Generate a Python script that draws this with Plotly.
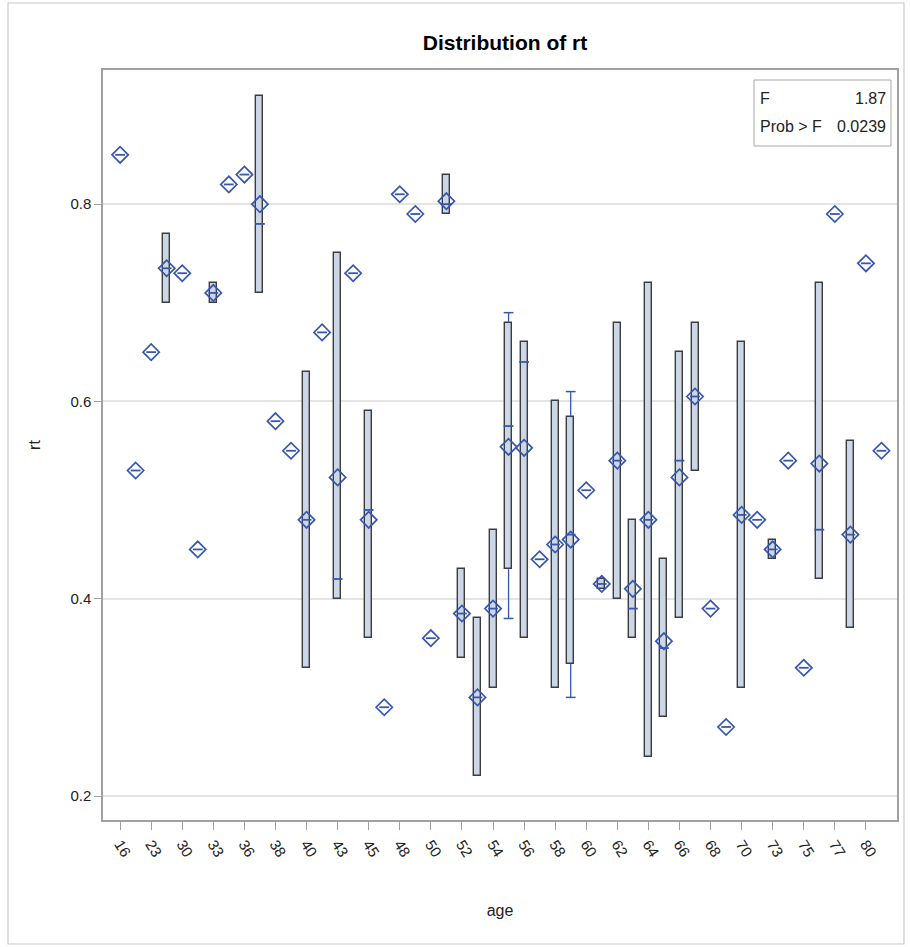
import plotly.graph_objects as go

# ---- data ----
ages = ["16", "20", "23", "27", "30", "32", "33", "35", "36", "37",
        "38", "39", "40", "42", "43", "44", "45", "47", "48", "49",
        "50", "51", "52", "53", "54", "55", "56", "57", "58", "59",
        "60", "61", "62", "63", "64", "65", "66", "67", "68", "69",
        "70", "72", "73", "74", "75", "76", "77", "79", "80", "82"]
tick_labels = ["16", "23", "30", "33", "36", "38", "40", "43", "45", "48", "50", "52",
               "54", "56", "58", "60", "62", "64", "66", "68", "70", "73", "75", "77", "80"]

# single-observation groups
single_age = ["16", "20", "23", "30", "32", "35", "36", "38", "39", "42", "44", "47",
              "48", "49", "50", "57", "60", "68", "69", "72", "74", "75", "77", "80", "82"]
single_rt = [0.85, 0.53, 0.65, 0.73, 0.45, 0.82, 0.83, 0.58, 0.55, 0.67, 0.73, 0.29,
             0.81, 0.79, 0.36, 0.44, 0.51, 0.39, 0.27, 0.48, 0.54, 0.33, 0.79, 0.74, 0.55]

# multi-observation groups (box statistics)
box_age = ["27", "33", "37", "40", "43", "45", "51", "52", "53", "54", "55", "56", "58",
           "59", "61", "62", "63", "64", "65", "66", "67", "70", "73", "76", "79"]
box_q1 = [0.70, 0.70, 0.71, 0.33, 0.40, 0.36, 0.79, 0.34, 0.22, 0.31, 0.43, 0.36, 0.31,
          0.334, 0.41, 0.40, 0.36, 0.24, 0.28, 0.38, 0.53, 0.31, 0.44, 0.42, 0.37]
box_med = [0.735, 0.71, 0.78, 0.48, 0.42, 0.49, 0.80, 0.385, 0.30, 0.39, 0.575, 0.64, 0.455,
           0.465, 0.415, 0.54, 0.39, 0.48, 0.35, 0.54, 0.605, 0.485, 0.45, 0.47, 0.465]
box_q3 = [0.77, 0.72, 0.91, 0.63, 0.75, 0.59, 0.83, 0.43, 0.38, 0.47, 0.68, 0.66, 0.60,
          0.584, 0.42, 0.68, 0.48, 0.72, 0.44, 0.65, 0.68, 0.66, 0.46, 0.72, 0.56]
box_mean = [0.735, 0.71, 0.80, 0.48, 0.523, 0.48, 0.803, 0.385, 0.30, 0.39, 0.554, 0.553, 0.455,
            0.46, 0.415, 0.54, 0.41, 0.48, 0.357, 0.523, 0.605, 0.485, 0.45, 0.537, 0.465]

# whiskers (only groups where they extend beyond the box)
whisk_age = ["55", "59"]
whisk_lo = [0.38, 0.30]
whisk_hi = [0.69, 0.61]

f_value = "1.87"
p_value = "0.0239"

# ---- styling ----
BLUE = "#3656B0"
BOXFILL = "#CBD6E6"
BOXLINE = "#3C3C3C"
FONT = "Liberation Sans Narrow, Liberation Sans, Arial, sans-serif"

W, H = 910, 947
L, R, T, B = 103, 897, 70, 820


def px(x):
    return (x - L) / (R - L)


def py(y):
    return (B - y) / (B - T)


fig = go.Figure()

# whiskers
wx, wy = [], []
for a, lo, hi in zip(whisk_age, whisk_lo, whisk_hi):
    k = box_age.index(a)
    wx += [a, a, None, a, a, None]
    wy += [box_q3[k], hi, None, box_q1[k], lo, None]
fig.add_trace(go.Scatter(x=wx, y=wy, mode="lines", line=dict(color=BLUE, width=1.3),
                         hoverinfo="skip", showlegend=False))
fig.add_trace(go.Scatter(x=whisk_age + whisk_age, y=whisk_lo + whisk_hi, mode="markers",
                         marker=dict(symbol="line-ew", size=7, line=dict(color=BLUE, width=1.5)),
                         hoverinfo="skip", showlegend=False))

# boxes
fig.add_trace(go.Bar(x=box_age, y=[b - a for a, b in zip(box_q1, box_q3)], base=box_q1,
                     width=0.45, marker=dict(color=BOXFILL, line=dict(color=BOXLINE, width=1.4)),
                     showlegend=False))

# medians
fig.add_trace(go.Scatter(x=box_age + single_age, y=box_med + single_rt, mode="markers",
                         marker=dict(symbol="line-ew", size=7, line=dict(color=BLUE, width=1.8)),
                         showlegend=False, hoverinfo="skip"))

# means (diamonds)
fig.add_trace(go.Scatter(x=box_age + single_age, y=box_mean + single_rt, mode="markers",
                         marker=dict(symbol="diamond-open", size=12.5, color=BLUE,
                                     line=dict(color=BLUE, width=1.7)),
                         showlegend=False))

shapes = [
    # outer border
    dict(type="rect", xref="paper", yref="paper", x0=px(8), x1=px(904), y0=py(944), y1=py(3),
         line=dict(color="#C8C8C8", width=1.2), layer="below"),
    # inset box
    dict(type="rect", xref="paper", yref="paper", x0=px(754), x1=px(891), y0=py(146), y1=py(80),
         line=dict(color="#A8A8A8", width=1), fillcolor="white"),
]

annos = [
    dict(x=px(758), y=py(98), xref="paper", yref="paper", text="F", showarrow=False,
         xanchor="left", yanchor="middle", font=dict(size=16, color="#222", family=FONT)),
    dict(x=px(888), y=py(98), xref="paper", yref="paper", text=f_value, showarrow=False,
         xanchor="right", yanchor="middle", font=dict(size=16, color="#222", family=FONT)),
    dict(x=px(758), y=py(127), xref="paper", yref="paper", text="Prob > F", showarrow=False,
         xanchor="left", yanchor="middle", font=dict(size=16, color="#222", family=FONT)),
    dict(x=px(888), y=py(127), xref="paper", yref="paper", text=p_value, showarrow=False,
         xanchor="right", yanchor="middle", font=dict(size=16, color="#222", family=FONT)),
]

fig.update_layout(
    width=W, height=H,
    margin=dict(l=L, r=W - R, t=T, b=H - B, pad=0),
    paper_bgcolor="white", plot_bgcolor="white",
    font=dict(family=FONT, size=15, color="#222"),
    title=dict(text="<b>Distribution of rt</b>", x=505 / W, xanchor="center",
               y=1 - 43 / H, yanchor="middle", font=dict(size=21, color="#000", family=FONT)),
    shapes=shapes, annotations=annos,
    bargap=0,
)

fig.update_xaxes(
    type="category", categoryorder="array", categoryarray=ages,
    range=[-1.1, 50.0],
    tickmode="array", tickvals=tick_labels, ticktext=tick_labels,
    tickangle=58, ticks="outside", ticklen=8, tickcolor="#A0A0A0",
    showline=True, mirror=True, linecolor="#A0A0A0", linewidth=1.5,
    showgrid=False, zeroline=False,
    tickfont=dict(size=15, color="#222"),
    title=dict(text="age", font=dict(size=16, color="#222"), standoff=46),
)
fig.update_yaxes(
    range=[0.1757, 0.936],
    tickvals=[0.2, 0.4, 0.6, 0.8], ticktext=["0.2", "0.4", "0.6", "0.8"],
    ticks="outside", ticklen=7, tickcolor="#A0A0A0",
    showline=True, mirror=True, linecolor="#A0A0A0", linewidth=1.5,
    showgrid=True, gridcolor="#E4E4E4", gridwidth=1.5, zeroline=False,
    tickfont=dict(size=15, color="#222"),
    title=dict(text="rt", font=dict(size=16, color="#222"), standoff=26),
)

fig.write_html("out.html", config={"displayModeBar": False},
               post_script="document.body.style.margin='0';")
